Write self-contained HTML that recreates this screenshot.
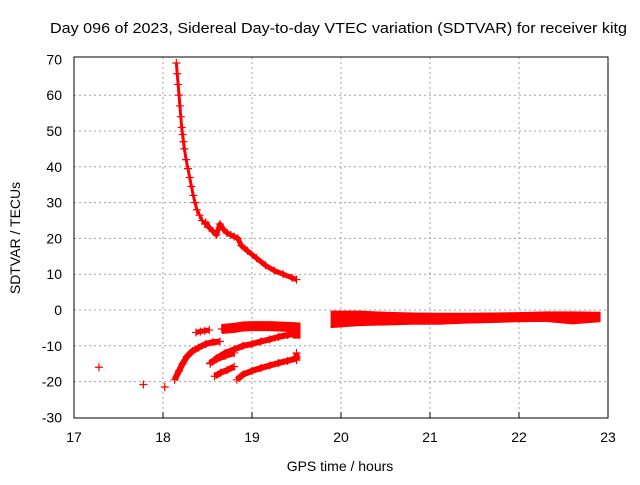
<!DOCTYPE html>
<html><head><meta charset="utf-8"><style>
body{margin:0;background:#fff}
svg text{font-family:"Liberation Sans",sans-serif;fill:#000}
</style></head><body>
<svg id="c" width="640" height="480" viewBox="0 0 640 480">
<text x="50" y="33" font-size="15" textLength="577" lengthAdjust="spacingAndGlyphs">Day 096 of 2023, Sidereal Day-to-day VTEC variation (SDTVAR) for receiver kitg</text>
<text x="340" y="471" text-anchor="middle" font-size="14">GPS time / hours</text>
<text transform="translate(20,238) rotate(-90)" text-anchor="middle" font-size="14">SDTVAR / TECUs</text>
<g id="grid"></g><g id="data"></g>
<rect x="74" y="57" width="534" height="361" fill="none" stroke="#000"/>
</svg>
<script>
const xTicks=[17,18,19,20,21,22,23];
const yTicks=[70,60,50,40,30,20,10,0,-10,-20,-30];
const isolatedT=[17.28,17.78,18.02];
const isolatedV=[-16,-20.8,-21.5];
const decayT=[18.15,18.16,18.17,18.18,18.19,18.2,18.21,18.22,18.23,18.24,18.26,18.28,18.3,18.32,18.34,18.36,18.38,18.41,18.44,18.47];
const decayV=[69,66,63,60,57,54,51,49,47,45,42,39.5,37,34.5,32,30,28,26.5,25,24];
const tailT=[18.48,18.52,18.56,18.6,18.64,18.68,18.72,18.76,18.8,18.84,18.88,18.95,19.05,19.15,19.25,19.35,19.45,19.5];
const tailV=[24.5,23,22,21,24,22.5,21.5,21,20.5,20,18,16.5,14.5,12.5,11,10,9,8.5];
const arcAT=[18.13,18.18,18.22,18.27,18.33,18.4,18.48,18.56,18.64];
const arcAV=[-19.5,-17,-15,-13,-11.5,-10.5,-9.5,-9,-8.8];
const arcBT=[18.37,18.42,18.47,18.52];
const arcBV=[-6.3,-6,-5.8,-5.6];
const bandTopT=[18.66,18.8,18.9,19.0,19.1,19.2,19.3,19.4,19.5];
const bandTopV=[-5.3,-5.0,-4.6,-4.5,-4.5,-4.5,-4.6,-4.7,-4.8];
const arcCT=[18.53,18.6,18.7,18.8,18.9,19.0,19.1,19.2,19.3,19.4,19.5];
const arcCV=[-15,-13.5,-12,-11,-10,-9.5,-8.8,-8.2,-7.5,-7,-6.5];
const arcET=[18.53,18.6,18.7,18.8];
const arcEV=[-14.8,-13.8,-12.8,-12];
const arcDT=[18.58,18.65,18.72,18.8];
const arcDV=[-18.5,-17.5,-16.8,-15.8];
const arcFT=[18.83,18.9,19.0,19.1,19.2,19.3,19.4,19.5];
const arcFV=[-19.5,-18,-17,-16.2,-15.5,-14.8,-14.2,-13.5];
const bandBT=[19.5,19.5,19.5];
const bandBV=[-12,-13,-14];
const bandRT=[19.9,20.2,20.5,20.8,21.1,21.4,21.7,22.0,22.3,22.6,22.9];
const bandRHi=[-0.6,-0.6,-0.9,-1.1,-1.2,-1.2,-1.1,-1.0,-0.8,-0.8,-0.9];
const bandRLo=[-4.6,-4.1,-3.9,-3.7,-3.7,-3.4,-3.2,-3.0,-2.9,-3.6,-3.0];
const NS='http://www.w3.org/2000/svg';
const X=t=>74+(t-17)*89;
const Y=v=>310-v*3.58;
const grid=document.getElementById('grid'),dat=document.getElementById('data');
function mk(tag,at,p){const e=document.createElementNS(NS,tag);for(const k in at)e.setAttribute(k,at[k]);p.appendChild(e);return e;}
xTicks.forEach(t=>{
 if(t>17&&t<23){const l=mk('line',{x1:X(t),x2:X(t),y1:57,y2:418,stroke:'#a0a0a0','stroke-dasharray':'2,3'},grid);
 
 }
 const tk=mk('line',{x1:X(t),x2:X(t),y1:418,y2:412,stroke:'#000'},grid);
 
 
 const tx=mk('text',{x:X(t),y:442,'text-anchor':'middle','font-size':'14'},grid);tx.textContent=t;
 
 
});
yTicks.forEach(v=>{
 if(v<70&&v>-30){const l=mk('line',{x1:74,x2:608,y1:Y(v),y2:Y(v),stroke:'#a0a0a0','stroke-dasharray':'2,3'},grid);
 
 }
 const tx=mk('text',{x:62,y:Y(v)+5,'text-anchor':'end','font-size':'14'},grid);tx.textContent=v;
 
 
});
function series(T,V,w,name){
 if(w>0){const l=mk('polyline',{points:T.map((t,i)=>X(t)+','+Y(V[i])).join(' '),fill:'none',stroke:'#f00','stroke-width':w,'stroke-linejoin':'round'},dat);
 
 }
 T.forEach((t,i)=>{const x=X(t),y=Y(V[i]);
  const p=mk('path',{d:`M${x-4} ${y}H${x+4}M${x} ${y-4}V${y+4}`,stroke:'#f00','stroke-width':1.2},dat);
  
  });
}
series(isolatedT,isolatedV,0,'isolated');
series(decayT,decayV,3,'decay');
series(tailT,tailV,5,'decay-tail');
series(arcAT,arcAV,6,'arc-a');
series(arcBT,arcBV,5,'arc-b');
series(bandTopT,bandTopV,10,'band-top');
series(arcCT,arcCV,6,'arc-c');
series(arcET,arcEV,6,'arc-e');
series(arcDT,arcDV,6,'arc-d');
series(arcFT,arcFV,6,'arc-f');
series(bandBT,bandBV,6,'band-b');
const topE=mk('polyline',{points:[19.5,19.5].map((t,i)=>X(t)+','+Y([-3.5,-8][i])).join(' '),stroke:'#f00','stroke-width':8},dat);


const pts=bandRT.map((t,i)=>X(t)+','+Y(bandRHi[i])).concat(bandRT.slice().reverse().map((t,i)=>X(t)+','+Y(bandRLo[bandRT.length-1-i])));
const poly=mk('polygon',{points:pts.join(' '),fill:'#f00',stroke:'#f00','stroke-width':3},dat);


</script>
</body></html>
